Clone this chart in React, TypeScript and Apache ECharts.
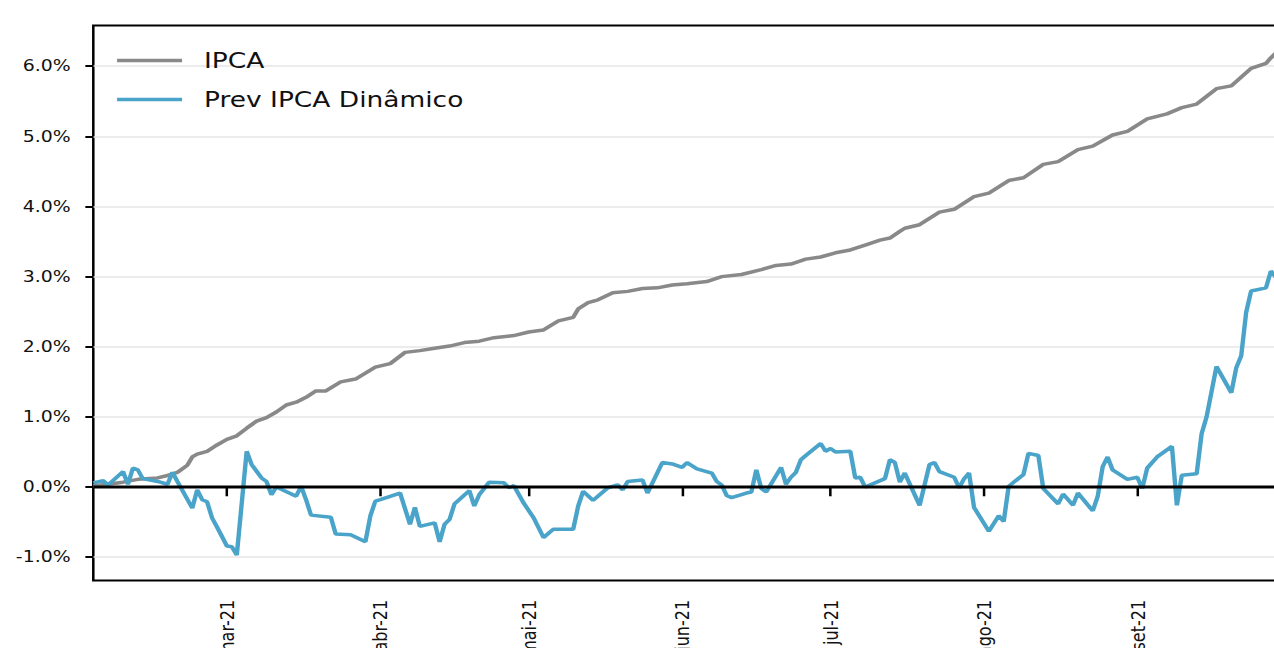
import React, { useEffect, useRef } from "react";
import * as echarts from "echarts";

// ---- data ----
const ipcaDates = [
  "2021-02-02","2021-02-05","2021-02-08","2021-02-11","2021-02-15","2021-02-17","2021-02-19","2021-02-21",
  "2021-02-22","2021-02-23","2021-02-25","2021-02-27","2021-03-01","2021-03-03","2021-03-05","2021-03-07",
  "2021-03-09","2021-03-11","2021-03-13","2021-03-15","2021-03-17","2021-03-19","2021-03-21","2021-03-24",
  "2021-03-27","2021-03-31","2021-04-03","2021-04-06","2021-04-09","2021-04-12","2021-04-15","2021-04-18",
  "2021-04-21","2021-04-24","2021-04-28","2021-05-01","2021-05-04","2021-05-07","2021-05-10","2021-05-11",
  "2021-05-13","2021-05-15","2021-05-18","2021-05-21","2021-05-24","2021-05-27","2021-05-30","2021-06-02",
  "2021-06-06","2021-06-09","2021-06-13","2021-06-17","2021-06-20","2021-06-23","2021-06-26","2021-06-29",
  "2021-07-02","2021-07-05","2021-07-08","2021-07-11","2021-07-13","2021-07-15","2021-07-16","2021-07-19",
  "2021-07-23","2021-07-26","2021-07-30","2021-08-02","2021-08-06","2021-08-09","2021-08-13","2021-08-16",
  "2021-08-20","2021-08-23","2021-08-27","2021-08-30","2021-09-03","2021-09-07","2021-09-10","2021-09-13",
  "2021-09-17","2021-09-20","2021-09-24","2021-09-27","2021-09-28","2021-09-29"
];
const ipcaValues = [
  0.02,0.04,0.07,0.11,0.13,0.165,0.21,0.31,
  0.43,0.47,0.51,0.60,0.68,0.73,0.84,0.94,
  0.99,1.07,1.17,1.21,1.28,1.37,1.37,1.50,
  1.54,1.71,1.76,1.92,1.945,1.98,2.01,2.06,
  2.08,2.13,2.16,2.21,2.24,2.37,2.42,2.54,
  2.63,2.67,2.77,2.79,2.83,2.84,2.88,2.90,
  2.93,3.00,3.03,3.10,3.16,3.18,3.25,3.28,
  3.34,3.38,3.45,3.52,3.55,3.645,3.69,3.74,
  3.92,3.96,4.14,4.19,4.37,4.41,4.60,4.64,
  4.81,4.86,5.02,5.07,5.25,5.32,5.41,5.46,
  5.68,5.72,5.97,6.04,6.12,6.19
];

const prevDates = [
  "2021-02-02","2021-02-04","2021-02-05","2021-02-08","2021-02-09","2021-02-10","2021-02-11","2021-02-12",
  "2021-02-15","2021-02-17","2021-02-18","2021-02-19","2021-02-22","2021-02-23","2021-02-24","2021-02-25",
  "2021-02-26","2021-02-27","2021-03-01","2021-03-02","2021-03-03","2021-03-05","2021-03-06","2021-03-08",
  "2021-03-09","2021-03-10","2021-03-11","2021-03-15","2021-03-16","2021-03-17","2021-03-18","2021-03-22",
  "2021-03-23","2021-03-26","2021-03-29","2021-03-30","2021-03-31","2021-04-01","2021-04-05","2021-04-07",
  "2021-04-08","2021-04-09","2021-04-12","2021-04-13","2021-04-14","2021-04-15","2021-04-16","2021-04-19",
  "2021-04-20","2021-04-21","2021-04-23","2021-04-26","2021-04-27","2021-04-28","2021-04-30","2021-05-02",
  "2021-05-04","2021-05-06","2021-05-10","2021-05-11","2021-05-12","2021-05-14","2021-05-17","2021-05-19",
  "2021-05-20","2021-05-21","2021-05-24","2021-05-25","2021-05-28","2021-05-30","2021-06-01","2021-06-02",
  "2021-06-04","2021-06-07","2021-06-08","2021-06-09","2021-06-10","2021-06-11","2021-06-14","2021-06-15",
  "2021-06-16","2021-06-17","2021-06-18","2021-06-21","2021-06-22","2021-06-23","2021-06-24","2021-06-25",
  "2021-06-26","2021-06-29","2021-06-30","2021-07-01","2021-07-02","2021-07-05","2021-07-06","2021-07-07",
  "2021-07-08","2021-07-12","2021-07-13","2021-07-14","2021-07-15","2021-07-16","2021-07-19","2021-07-21",
  "2021-07-22","2021-07-23","2021-07-26","2021-07-27","2021-07-28","2021-07-29","2021-07-30","2021-08-02",
  "2021-08-04","2021-08-05","2021-08-06","2021-08-09","2021-08-10","2021-08-12","2021-08-13","2021-08-16",
  "2021-08-17","2021-08-19","2021-08-20","2021-08-23","2021-08-24","2021-08-25","2021-08-26","2021-08-27",
  "2021-08-30","2021-09-01","2021-09-02","2021-09-03","2021-09-05","2021-09-08","2021-09-09","2021-09-10",
  "2021-09-13","2021-09-14","2021-09-15","2021-09-17","2021-09-20","2021-09-21","2021-09-22","2021-09-23",
  "2021-09-24","2021-09-27","2021-09-28","2021-09-29"
];
const prevValues = [
  0.06,0.09,0.03,0.22,0.04,0.27,0.245,0.12,
  0.08,0.04,0.21,0.08,-0.30,-0.04,-0.18,-0.21,
  -0.44,-0.57,-0.84,-0.85,-0.97,0.51,0.32,0.13,
  0.08,-0.11,0.0,-0.13,0.01,-0.18,-0.40,-0.43,
  -0.67,-0.68,-0.78,-0.41,-0.20,-0.18,-0.085,-0.53,
  -0.29,-0.56,-0.51,-0.78,-0.53,-0.46,-0.24,-0.05,
  -0.27,-0.11,0.07,0.06,-0.01,0.02,-0.23,-0.44,
  -0.72,-0.60,-0.60,-0.27,-0.06,-0.19,-0.01,0.03,
  -0.04,0.08,0.10,-0.085,0.35,0.33,0.28,0.35,
  0.26,0.20,0.08,0.03,-0.12,-0.15,-0.085,-0.07,
  0.245,-0.02,-0.07,0.28,0.04,0.14,0.21,0.39,
  0.45,0.62,0.51,0.55,0.50,0.51,0.13,0.14,
  0.0,0.12,0.39,0.35,0.07,0.20,-0.26,0.32,
  0.35,0.22,0.14,-0.01,0.12,0.20,-0.29,-0.63,
  -0.41,-0.49,0.01,0.18,0.48,0.45,-0.02,-0.24,
  -0.10,-0.26,-0.085,-0.34,-0.13,0.29,0.43,0.245,
  0.11,0.14,-0.02,0.27,0.43,0.58,-0.26,0.17,
  0.19,0.76,1.00,1.72,1.345,1.70,1.87,2.49,
  2.795,2.84,3.08,2.99
];

const xMin = "2021-02-02";
const xMax = "2021-09-30";
const xTickDates = ["2021-03-01", "2021-04-01", "2021-05-01", "2021-06-01", "2021-07-01", "2021-08-01", "2021-09-01"];
const xTickLabels = ["mar-21", "abr-21", "mai-21", "jun-21", "jul-21", "ago-21", "set-21"];
const yTickValues = [-1, 0, 1, 2, 3, 4, 5, 6];
const yMin = -1.331;
const yMax = 6.579;

const seriesNames = ["IPCA", "Prev IPCA Dinâmico"];

const S = 1.26; // horizontal stretch of the original picture
const INNER_W = 1032;
const INNER_H = 660;
const FONT = "DejaVu Sans";

function toTs(s: string): number {
  const [y, m, d] = s.split("-").map(Number);
  return new Date(y, m - 1, d).getTime();
}

export default function App() {
  const ref = useRef<HTMLDivElement>(null);

  useEffect(() => {
    document.body.style.margin = "0";
    document.body.style.overflow = "hidden";
    document.documentElement.style.overflow = "hidden";
    if (!ref.current) return;
    const chart = echarts.init(ref.current, null, { renderer: "svg" });
    const tickTimes = xTickDates.map(toTs);

    chart.setOption({
      animation: false,
      backgroundColor: "#ffffff",
      grid: {
        left: 74.05,
        right: 15.5,
        top: 25.6,
        height: 572,
        show: true,
        borderColor: "#000000",
        borderWidth: 2,
        backgroundColor: "transparent",
      },
      legend: {
        data: seriesNames,
        orient: "vertical",
        left: 92.9,
        top: 48.6,
        padding: 0,
        icon: "rect",
        itemWidth: 51.6,
        itemHeight: 3.5,
        itemGap: 14.9,
        selectedMode: false,
        textStyle: {
          fontFamily: FONT,
          fontSize: 21,
          color: "#111111",
          lineHeight: 24,
          padding: [0, 0, 0, 12.4],
        },
      },
      xAxis: {
        type: "value",
        min: toTs(xMin),
        max: toTs(xMax),
        axisLine: { show: false },
        splitLine: { show: false },
        axisTick: {
          show: true,
          customValues: tickTimes,
          length: 9.2,
          lineStyle: { color: "#000000", width: 2 },
        },
        axisLabel: {
          customValues: tickTimes,
          rotate: 90,
          margin: 19.5,
          fontFamily: FONT,
          fontSize: 16,
          color: "#111111",
          formatter: (v: number) => {
            const i = tickTimes.indexOf(v);
            return i >= 0 ? xTickLabels[i] : "";
          },
        },
      },
      yAxis: {
        type: "value",
        min: yMin,
        max: yMax,
        axisLine: { show: false },
        axisTick: {
          show: true,
          customValues: yTickValues,
          length: 6.3,
          lineStyle: { color: "#000000", width: 2 },
        },
        axisLabel: {
          customValues: yTickValues,
          margin: 18,
          fontFamily: FONT,
          fontSize: 15,
          color: "#111111",
          formatter: (v: number) => v.toFixed(1) + "%",
        },
        splitLine: { show: true, lineStyle: { color: "#e6e6e6", width: 1.5 } },
      },
      series: [
        {
          name: seriesNames[0],
          type: "line",
          data: ipcaDates.map((d, i) => [toTs(d), ipcaValues[i]]),
          symbol: "none",
          lineStyle: { color: "#898989", width: 3.5 },
          itemStyle: { color: "#898989" },
          z: 2,
        },
        {
          name: seriesNames[1],
          type: "line",
          data: prevDates.map((d, i) => [toTs(d), prevValues[i]]),
          symbol: "none",
          lineStyle: { color: "#4aa3c9", width: 3.5 },
          itemStyle: { color: "#4aa3c9" },
          z: 3,
        },
        {
          name: "zero",
          type: "line",
          data: [[toTs(xMin), 0], [toTs(xMax), 0]],
          symbol: "none",
          silent: true,
          lineStyle: { color: "#000000", width: 3 },
          itemStyle: { color: "#000000" },
          z: 4,
        },
      ],
    });

    return () => chart.dispose();
  }, []);

  return (
    <div
      style={{
        position: "relative",
        width: 1274,
        height: INNER_H,
        overflow: "hidden",
        background: "#ffffff",
      }}
    >
      <div
        ref={ref}
        style={{
          width: INNER_W,
          height: INNER_H,
          transform: `scaleX(${S})`,
          transformOrigin: "0 0",
        }}
      />
    </div>
  );
}
